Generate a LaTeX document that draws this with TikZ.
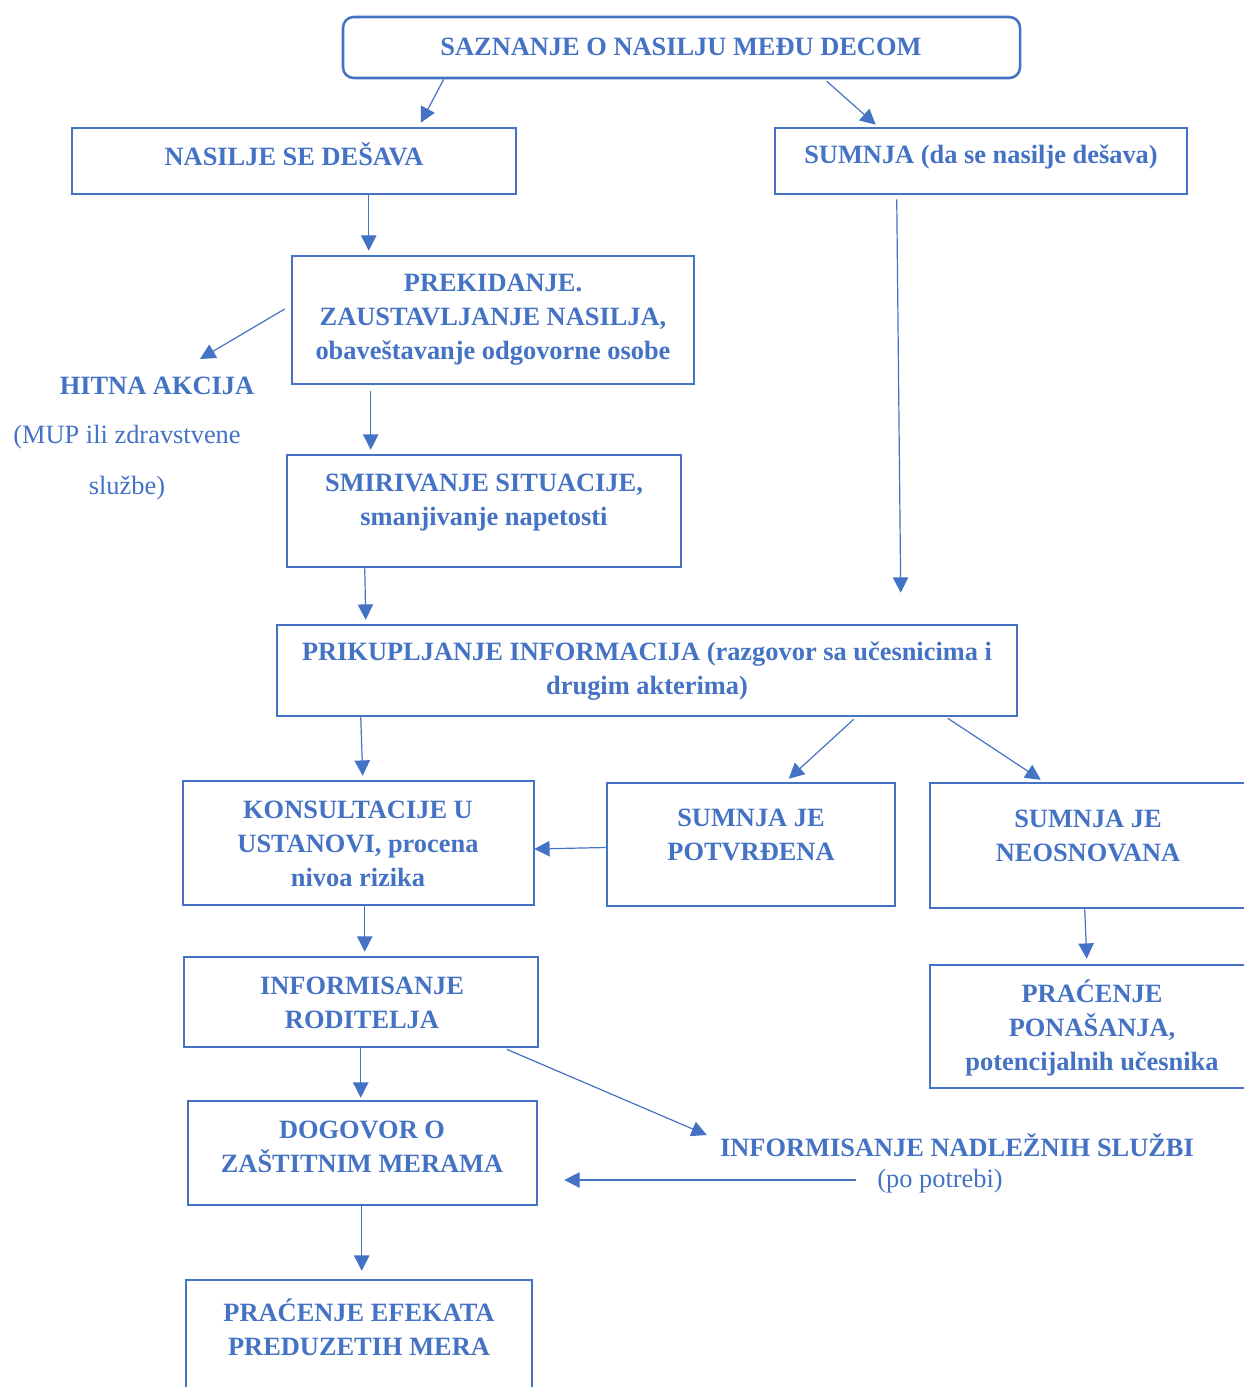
\documentclass[tikz,border=0pt]{standalone}
\usepackage{fontspec}
\setmainfont{Liberation Serif}
\usetikzlibrary{arrows.meta,calc,fit}
\definecolor{ofblue}{HTML}{4472C4}
\tikzset{
  box/.style={draw=ofblue, line width=1.9pt, inner sep=0pt},
  txt/.style={text=ofblue, align=center, inner sep=0pt, font=\fontsize{19.8}{25.5}\selectfont\bfseries},
  plain/.style={text=ofblue, align=center, inner sep=0pt, font=\fontsize{19.8}{25.5}\selectfont},
  arr/.style={draw=ofblue, line width=0.9pt, -{Triangle[length=11.5pt,width=11.5pt]}}
}
\begin{document}
\begin{tikzpicture}[x=0.75pt,y=-0.75pt]
\useasboundingbox (0,0) rectangle (1244,1387);
\clip (0,0) rectangle (1244,1387);
\fill[white] (0,0) rectangle (1244,1387);

% boxes
\node[box, rounded corners=8pt, fit={(343,17) (1020,78)}] (top) {};
\node[box, fit={(72,128) (516,194)}] (nas) {};
\node[box, fit={(775,128) (1187,194)}] (sum) {};
\node[box, fit={(292,256) (694,384)}] (prek) {};
\node[box, fit={(287,455) (681,567)}] (smir) {};
\node[box, fit={(277,625) (1017,716)}] (prik) {};
\node[box, fit={(183,781) (534,905)}] (kons) {};
\node[box, fit={(607,783) (895,906)}] (potv) {};
\node[box, fit={(930,783) (1270,908)}] (neos) {};
\node[box, fit={(930,965) (1270,1088)}] (prac1) {};
\node[box, fit={(184,957) (538,1047)}] (rod) {};
\node[box, fit={(188,1101) (537,1205)}] (dog) {};
\node[box, fit={(186,1280) (532,1410)}] (prac2) {};

% texts
\node[txt] (ttop) at (681,47) {SAZNANJE O NASILJU MEĐU DECOM};
\node[txt] (tnas) at (294,154) {NASILJE SE DEŠAVA};
\node[txt] (tsum) at (981,157) {SUMNJA (da se nasilje dešava)};
\node[txt] (tprek) at (493,320) {PREKIDANJE.\\ZAUSTAVLJANJE NASILJA,\\obaveštavanje odgovorne osobe};
\node[txt] (tsmir) at (484,503) {SMIRIVANJE SITUACIJE,\\smanjivanje napetosti};
\node[txt] (tprik) at (647,671) {PRIKUPLJANJE INFORMACIJA (razgovor sa učesnicima i\\drugim akterima)};
\node[txt] (tkons) at (358,844) {KONSULTACIJE U\\USTANOVI, procena\\nivoa rizika};
\node[txt] (tpotv) at (751,835) {SUMNJA JE\\POTVRĐENA};
\node[txt] (tneos) at (1088,836) {SUMNJA JE\\NEOSNOVANA};
\node[txt] (tprac1) at (1092,1028) {PRAĆENJE\\PONAŠANJA,\\potencijalnih učesnika};
\node[txt] (trod) at (362,1003) {INFORMISANJE\\RODITELJA};
\node[txt] (tdog) at (362,1147) {DOGOVOR O\\ZAŠTITNIM MERAMA};
\node[txt] (tprac2) at (359,1327) {PRAĆENJE EFEKATA\\PREDUZETIH MERA};
\node[txt] (hitna) at (157,386) {HITNA AKCIJA};
\node[plain, font=\fontsize{19.8}{38.25}\selectfont] (mup) at (127,463) {(MUP ili zdravstvene\\službe)};
\node[txt] (nad) at (957,1145) {INFORMISANJE NADLEŽNIH SLUŽBI};
\node[plain] (pot) at (940,1181) {(po potrebi)};

% connectors
\draw[arr] ($(top.south west)+(102,0)$) -- ($(nas.north west)+(350,-4)$);
\draw[arr] ($(top.south west)+(485,2)$) -- ($(sum.north west)+(102,-2)$);
\draw[arr] ($(nas.south west)+(298,0)$) -- ($(prek.north west)+(78,-4)$);
\draw[arr] ($(sum.south west)+(123,4)$) -- ($(prik.north west)+(625,-31)$);
\draw[arr] ($(prek.west)+(-6,-11)$) -- ($(hitna.center)+(43,-27)$);
\draw[arr] ($(prek.south west)+(80,6)$) -- ($(smir.north west)+(85,-4)$);
\draw[arr] ($(smir.south west)+(79,0)$) -- ($(prik.north west)+(90,-4)$);
\draw[arr] ($(prik.south west)+(85,0)$) -- ($(kons.north west)+(181,-4)$);
\draw[arr] ($(prik.south west)+(578,2)$) -- ($(potv.north west)+(183,-3)$);
\draw[arr] ($(prik.south west)+(672,1)$) -- ($(neos.north west)+(112,-2)$);
\draw[arr] ($(potv.west)+(0,3)$) -- ($(kons.east)+(-1,6)$);
\draw[arr] ($(kons.south west)+(183,0)$) -- ($(rod.north west)+(182,-4)$);
\draw[arr] ($(neos.south west)+(156,0)$) -- ($(prac1.north west)+(158,-5)$);
\draw[arr] ($(rod.south west)+(178,0)$) -- ($(dog.north west)+(174,-2)$);
\draw[arr] ($(rod.south west)+(324,1)$) -- ($(nad.west)+(-13,-10)$);
\draw[arr] ($(pot.west)+(-21,-1)$) -- ($(dog.east)+(26,27)$);
\draw[arr] ($(dog.south west)+(175,0)$) -- ($(prac2.north west)+(177,-8)$);
\end{tikzpicture}
\end{document}
